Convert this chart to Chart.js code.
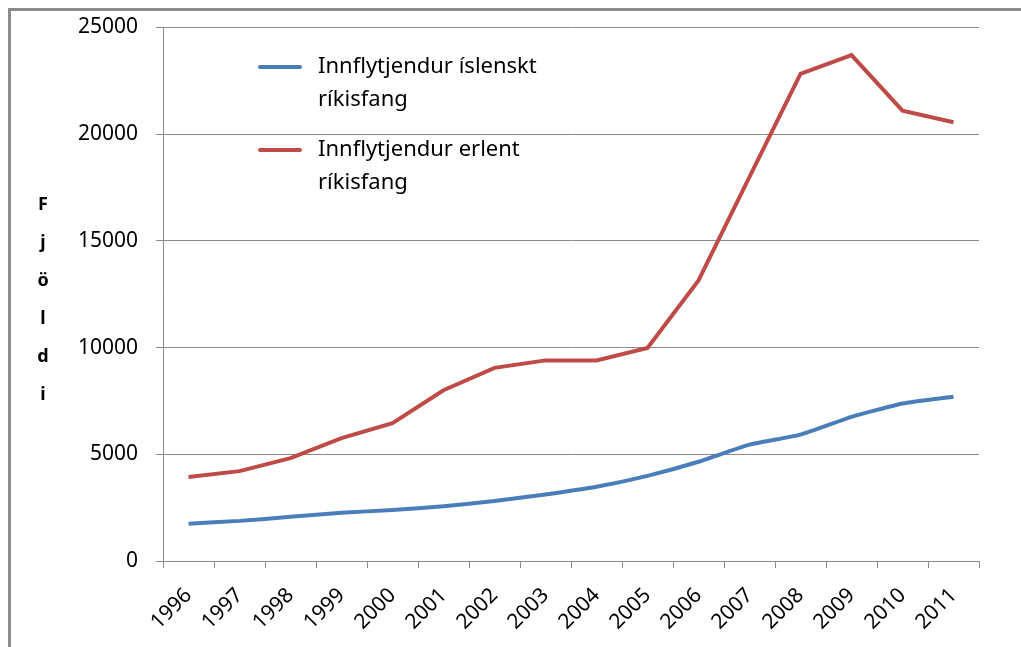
<!DOCTYPE html>
<html lang="is">
<head>
    <meta charset="UTF-8">
    <title>Innflytjendur</title>
    <style>
        body { margin: 0; background: #fff; }
        #wrap { position: relative; width: 1021px; height: 647px; overflow: hidden; }
        #frame {
            position: absolute; left: 8px; top: 8px; width: 1100px; height: 700px;
            border-top: 3px solid #8c8c8c; border-left: 3px solid #8c8c8c;
        }
        #chart { position: absolute; left: 0; top: 0; }
    </style>
    <script src="https://cdn.jsdelivr.net/npm/chart.js"></script>
</head>
<body>
<div id="wrap">
    <div id="frame"></div>
    <canvas id="chart" width="1021" height="647"></canvas>
</div>
<script>
    // Data
    const years = ['1996', '1997', '1998', '1999', '2000', '2001', '2002', '2003',
                   '2004', '2005', '2006', '2007', '2008', '2009', '2010', '2011'];
    const islenskt = [1750, 1880, 2070, 2260, 2390, 2570, 2810, 3120,
                      3480, 3990, 4650, 5450, 5920, 6750, 7380, 7700];
    const erlent = [3940, 4210, 4820, 5760, 6460, 8000, 9050, 9400,
                    9400, 9980, 13150, 18000, 22830, 23700, 21100, 20560];
    const seriesNames = [['Innflytjendur íslenskt', 'ríkisfang'], ['Innflytjendur erlent', 'ríkisfang']];
    const yTicks = [0, 5000, 10000, 15000, 20000, 25000];
    const yTitle = ['F', 'j', 'ö', 'l', 'd', 'i'];

    const blue = '#4a7ebb';
    const red = '#be4b48';
    const gridColor = '#8a8a8a';
    const font = '"Noto Sans", "Open Sans", sans-serif';

    // legend in two lines per entry, and the stacked y title
    const extras = {
        id: 'extras',
        afterDraw(chart) {
            const ctx = chart.ctx;
            ctx.save();
            ctx.font = '22px ' + font;
            ctx.fillStyle = '#000';
            ctx.textBaseline = 'middle';
            const rows = [67, 150];
            chart.data.datasets.forEach((ds, i) => {
                ctx.strokeStyle = ds.borderColor;
                ctx.lineWidth = 4;
                ctx.lineCap = 'round';
                ctx.beginPath();
                ctx.moveTo(260, rows[i]);
                ctx.lineTo(300, rows[i]);
                ctx.stroke();
                seriesNames[i].forEach((t, j) => ctx.fillText(t, 318, rows[i] + j * 33));
            });
            ctx.font = 'bold 18px ' + font;
            ctx.textAlign = 'center';
            yTitle.forEach((ch, i) => ctx.fillText(ch, 43, 205 + i * 38));
            ctx.restore();
        }
    };

    new Chart(document.getElementById('chart'), {
        type: 'line',
        data: {
            labels: years,
            datasets: [
                { label: seriesNames[0].join(' '), data: islenskt, borderColor: blue, borderWidth: 4, pointRadius: 0, tension: 0.15 },
                { label: seriesNames[1].join(' '), data: erlent, borderColor: red, borderWidth: 4, pointRadius: 0, tension: 0 }
            ]
        },
        options: {
            responsive: false,
            animation: false,
            layout: { padding: { top: 10, right: 42, left: 0, bottom: 0 } },
            plugins: { legend: { display: false }, tooltip: { enabled: false } },
            scales: {
                x: {
                    offset: true,
                    grid: { offset: true, drawOnChartArea: false, color: gridColor, tickLength: 7 },
                    border: { color: gridColor },
                    ticks: { color: '#000', font: { family: font, size: 21 }, maxRotation: 45, minRotation: 45, padding: 15, autoSkip: false },
                    afterFit(scale) { scale.height = 86; }
                },
                y: {
                    min: 0,
                    max: 25000,
                    afterBuildTicks(scale) { scale.ticks = yTicks.map(v => ({ value: v })); },
                    grid: { color: gridColor, tickLength: 7 },
                    border: { color: gridColor },
                    ticks: { color: '#000', font: { family: font, size: 21, lineHeight: 0.9 }, padding: 18, callback: v => String(v) },
                    afterFit(scale) { scale.width = 163; }
                }
            }
        },
        plugins: [extras]
    });
</script>
</body>
</html>
